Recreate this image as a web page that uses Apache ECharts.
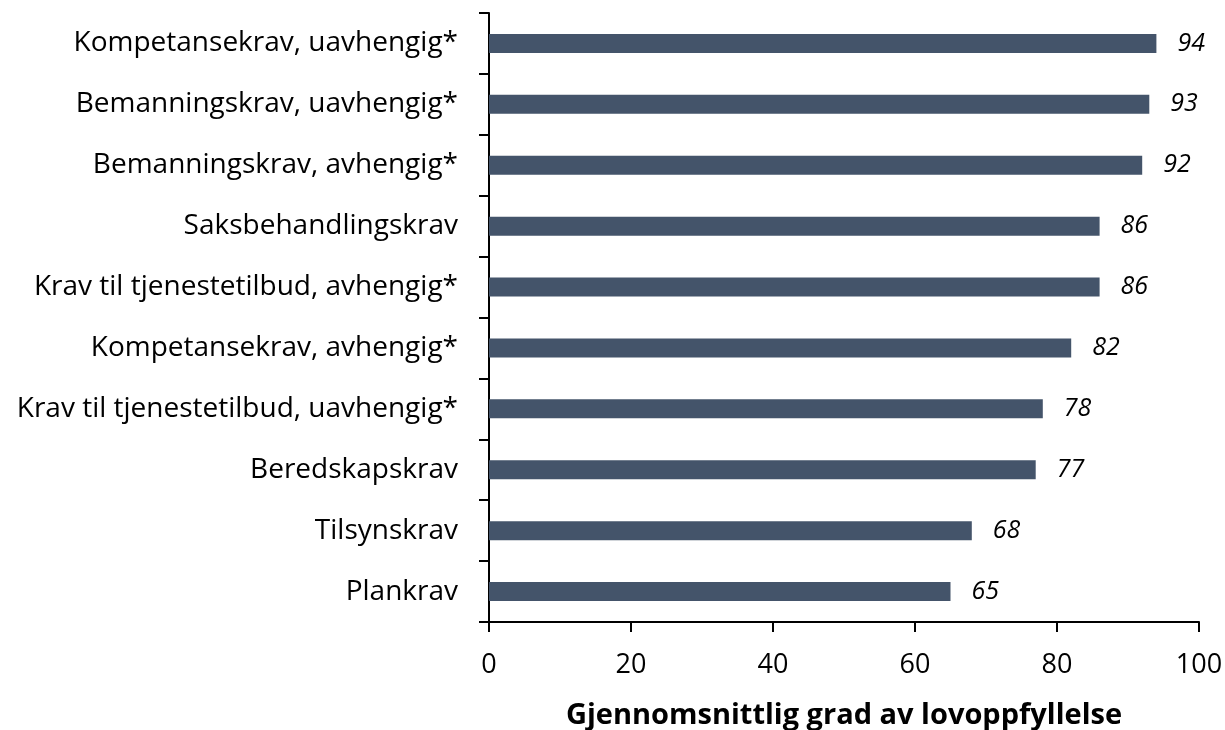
<!DOCTYPE html>
<html>
<head>
<meta charset="utf-8">
<script src="https://cdn.jsdelivr.net/npm/echarts@6/dist/echarts.min.js"></script>
<style>
  html, body { margin: 0; padding: 0; background: #fff; }
  #chart { width: 1225px; height: 730px; }
</style>
</head>
<body>
<div id="chart"></div>
<script>
// kategorier, nederst først (ECharts tegner kategoriakse nedenfra)
const categories = [
  'Plankrav',
  'Tilsynskrav',
  'Beredskapskrav',
  'Krav til tjenestetilbud, uavhengig*',
  'Kompetansekrav, avhengig*',
  'Krav til tjenestetilbud, avhengig*',
  'Saksbehandlingskrav',
  'Bemanningskrav, avhengig*',
  'Bemanningskrav, uavhengig*',
  'Kompetansekrav, uavhengig*'
]
const values = [65, 68, 77, 78, 82, 86, 86, 92, 93, 94]
const xTicks = [0, 20, 40, 60, 80, 100]
const axisTitle = 'Gjennomsnittlig grad av lovoppfyllelse'

const fontFamily = '"Open Sans", sans-serif'
const chart = echarts.init(document.getElementById('chart'), null, { renderer: 'canvas' })

chart.setOption({
  backgroundColor: '#ffffff',
  animation: false,
  grid: { left: 489, right: 26, top: 13, bottom: 108, containLabel: false, outerBoundsMode: 'none' },
  xAxis: {
    type: 'value',
    min: xTicks[0],
    max: xTicks[xTicks.length - 1],
    interval: 20,
    name: axisTitle,
    nameLocation: 'middle',
    nameGap: 79,
    nameTextStyle: { fontFamily, fontSize: 29, fontWeight: 'bold', color: '#000' },
    axisLine: { show: true, lineStyle: { color: '#000', width: 2 } },
    axisTick: { show: true, inside: false, length: 10, lineStyle: { color: '#000', width: 2 } },
    axisLabel: { fontFamily, fontSize: 27, color: '#000', margin: 30 },
    splitLine: { show: false }
  },
  yAxis: {
    type: 'category',
    data: categories,
    axisLine: { show: true, lineStyle: { color: '#000', width: 2 } },
    axisTick: { show: true, inside: false, length: 10, alignWithLabel: false, lineStyle: { color: '#000', width: 2 } },
    axisLabel: { fontFamily, fontSize: 28, color: '#000', margin: 31 },
    splitLine: { show: false }
  },
  series: [{
    type: 'bar',
    data: values,
    barWidth: 19,
    itemStyle: { color: '#44546A' },
    label: {
      show: true,
      position: 'right',
      distance: 21,
      fontFamily,
      fontSize: 25,
      fontStyle: 'italic',
      color: '#000'
    }
  }]
})
</script>
</body>
</html>
